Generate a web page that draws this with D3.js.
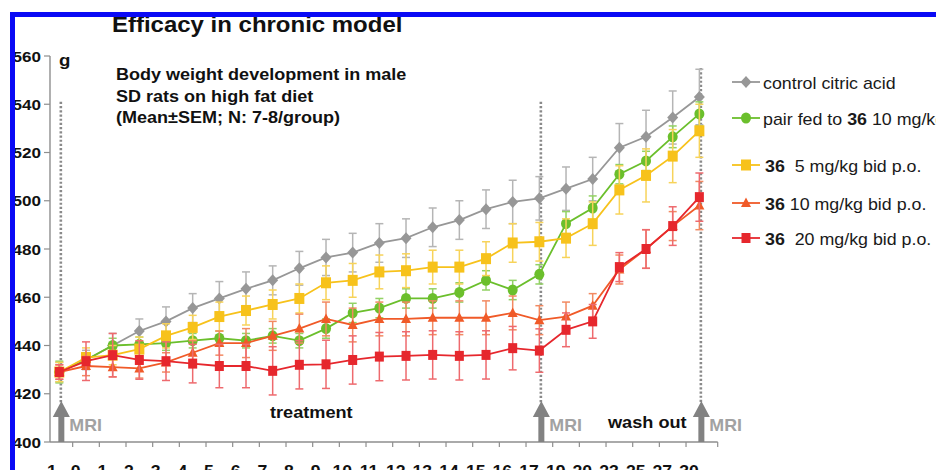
<!DOCTYPE html>
<html><head><meta charset="utf-8">
<script src="https://cdn.jsdelivr.net/npm/d3@7"></script>
<style>
body{margin:0;background:#fff;}
svg{display:block;font-family:"Liberation Sans",Arial,Helvetica,sans-serif;}
</style>
</head><body>
<svg id="chart" width="936" height="470"></svg>
<script>
// ---------------- data ----------------
const days = ["-1","0","1","2","3","4","5","6","7","8","9","10","11","12","13","14","15","16","17","19","20","23","25","27","30"];
const control    = [429,434,440,446,450,455.5,459.5,463.5,467,472,476.5,478.5,482.5,484.5,489,492,496.5,499.5,501,505,509,522,526.5,534.5,543];
const controlSem = [4,4,5,5,6,6,7,7,6,7,7.5,8,8,8,8,8,8,9,9,9,9,10,11,11,11.5];
const pairFed    = [429,434,440,440.5,441,442,443,442,444,442,447,453.5,455.5,459.5,459.5,462,467,463,469.5,490.5,497,511,516.5,526.5,536];
const pairFedSem = [4.5,3,3,3,3,3,3,3,3,3,4,4,4,4,4,4,4,4,4,5,5,4,4,4.5,5];
const dose5      = [429,435,436,438.5,444,447.5,452,454.5,457,459.5,466,467,470.5,471,472.5,472.5,476,482.5,483,484.5,490.5,504.5,510.5,518.5,529];
const dose5Sem   = [4,4,4,5,5,5,6,6,6,6,7,7,7,7,7,7,7,8,8,8,9,10,11,11,11];
const dose10     = [429,431.5,431,430.5,433,437,441,441,444,447,451,448.5,451,451,451.5,451.5,451.5,453.5,450.5,452,456.5,471.5,480,489.5,498];
const dose10Sem  = [3,4,4,4,4,5,5,6,6,6,7,7,7,7,7,7,7,7,6,6,5,6,8,6,10];
const dose20     = [429,433.5,436,434,433.5,432.5,431.5,431.5,429.5,432,432.2,434,435.4,435.7,436.1,435.7,436.1,438.9,437.9,446.5,450,472.5,480,489.5,501.5];
const dose20Sem  = [3,8,9,8,8,8,9,9,10,10,10,10,10,10,10,10,10,9,9,7,7,6,8,8,10];
const yTicks = [400,420,440,460,480,500,520,540,560];
const mriDays = ["-1","17","30"];

// ---------------- layout ----------------
const svg = d3.select("#chart");
const SX = 1.1; // horizontal text stretch of the reference
const x = d3.scaleBand().domain(days).range([46, 712.7]).paddingInner(0).paddingOuter(0);
const cx = d => x(d) + x.bandwidth()/2;
const y = d3.scaleLinear().domain([400,560]).range([442,56]);

function txt(g, px, py, size, opts={}) {
  return g.append("text")
    .attr("transform", `translate(${px},${py}) scale(${opts.sx||SX},1)`)
    .attr("text-anchor", opts.anchor || "start")
    .attr("font-size", size)
    .attr("font-weight", opts.bold ? "bold" : "normal")
    .attr("fill", opts.fill || "#111");
}

const series = [
  {vals: control, sem: controlSem, color:"#979797", err:"#b5b5b5", shape:"diamond"},
  {vals: pairFed, sem: pairFedSem, color:"#6bbf2c", err:"#93d265", shape:"circle"},
  {vals: dose5,   sem: dose5Sem,   color:"#f7c21b", err:"#f7d35a", shape:"square"},
  {vals: dose10,  sem: dose10Sem,  color:"#f05a28", err:"#f28a62", shape:"triangle"},
  {vals: dose20,  sem: dose20Sem,  color:"#e6272d", err:"#ee6a6e", shape:"square2"}
];

function marker(g, shape, color, px, py) {
  if (shape === "diamond") {
    g.append("path").attr("d", `M${px},${py-6}L${px+5.5},${py}L${px},${py+6}L${px-5.5},${py}Z`).attr("fill", color);
  } else if (shape === "circle") {
    g.append("ellipse").attr("cx", px).attr("cy", py).attr("rx", 5).attr("ry", 5.5).attr("fill", color);
  } else if (shape === "square") {
    g.append("rect").attr("x", px-5).attr("y", py-5.5).attr("width", 10).attr("height", 11).attr("fill", color);
  } else if (shape === "square2") {
    g.append("rect").attr("x", px-4.5).attr("y", py-5).attr("width", 9).attr("height", 10).attr("fill", color);
  } else if (shape === "triangle") {
    g.append("path").attr("d", `M${px},${py-5.5}L${px+5},${py+4}L${px-5},${py+4}Z`).attr("fill", color);
  }
}

// ---------------- annotations (dotted lines, arrows) ----------------
const ann = svg.append("g");
const dotTop = {"-1": y(541), "17": y(541), "30": y(555)};
mriDays.forEach(d => {
  ann.append("line").attr("x1", cx(d)+1.5).attr("x2", cx(d)+1.5)
    .attr("y1", dotTop[d]).attr("y2", 404)
    .attr("stroke", "#8a8a8a").attr("stroke-width", 2.6).attr("stroke-dasharray", "2.2,2");
});

// ---------------- axes ----------------
const axisColor = "#8e8e8e";
const ax = svg.append("g");
// y axis
ax.append("line").attr("x1", 50).attr("x2", 50).attr("y1", y(560)).attr("y2", y(400)).attr("stroke", axisColor).attr("stroke-width", 1.4);
yTicks.forEach(t => {
  ax.append("line").attr("x1", 44).attr("x2", 50).attr("y1", y(t)).attr("y2", y(t)).attr("stroke", axisColor).attr("stroke-width", 1.2);
  txt(ax, 41, y(t)+5.5, 15.5, {bold:true, anchor:"end"}).text(t);
});
// x axis
ax.append("line").attr("x1", 50).attr("x2", x.range()[1]+5).attr("y1", y(400)).attr("y2", y(400)).attr("stroke", axisColor).attr("stroke-width", 1.4);
days.slice(1).forEach(d => {
  ax.append("line").attr("x1", x(d)).attr("x2", x(d)).attr("y1", y(400)).attr("y2", y(400)+5).attr("stroke", axisColor).attr("stroke-width", 1.2);
});
ax.append("line").attr("x1", x.range()[1]+5).attr("x2", x.range()[1]+5).attr("y1", y(400)).attr("y2", y(400)+5).attr("stroke", axisColor).attr("stroke-width", 1.2);
days.forEach(d => {
  txt(ax, x(d)+3, 477, 16, {bold:true, anchor:"middle"}).text(d);
});

// ---------------- series ----------------
const line = d3.line().x((v,i) => cx(days[i])).y(v => y(v));
series.forEach(s => {
  const g = svg.append("g");
  // error bars
  s.vals.forEach((v,i) => {
    const px = cx(days[i]);
    const hi = y(v + s.sem[i]), lo = y(v - s.sem[i]);
    g.append("line").attr("x1", px).attr("x2", px).attr("y1", hi).attr("y2", lo).attr("stroke", s.err).attr("stroke-width", 1.5);
    [hi, lo].forEach(yy => g.append("line").attr("x1", px-4).attr("x2", px+4).attr("y1", yy).attr("y2", yy).attr("stroke", s.err).attr("stroke-width", 1.5));
  });
  g.append("path").attr("d", line(s.vals)).attr("fill", "none").attr("stroke", s.color).attr("stroke-width", 1.8);
  s.vals.forEach((v,i) => marker(g, s.shape, s.color, cx(days[i]), y(v)));
});

// ---------------- arrows + MRI labels ----------------
const arr = svg.append("g");
mriDays.forEach(d => {
  const px = cx(d) + 2;
  arr.append("path")
    .attr("d", `M${px},401L${px+8.5},417L${px+3},417L${px+3},${y(400)}L${px-3},${y(400)}L${px-3},417L${px-8.5},417Z`)
    .attr("fill", "#828282");
  txt(arr, px+8, 430.5, 17, {bold:true, fill:"#a2a2a2", sx:1.05}).text("MRI");
});

// ---------------- texts ----------------
const tg = svg.append("g");
txt(tg, 112, 32.3, 21.8, {bold:true}).text("Efficacy in chronic model");
txt(tg, 59, 66, 17, {bold:true}).text("g");
txt(tg, 116, 80, 16.4, {bold:true}).text("Body weight development in male");
txt(tg, 116, 101.5, 16.4, {bold:true}).text("SD rats on high fat diet");
txt(tg, 116, 123, 16.4, {bold:true}).text("(Mean±SEM; N: 7-8/group)");
txt(tg, 270, 418, 16.5, {bold:true}).text("treatment");
txt(tg, 608, 428, 16.5, {bold:true}).text("wash out");

// ---------------- legend ----------------
const lg = svg.append("g");
const legRows = [82, 118, 165, 203, 238];
const legLabels = [
  [["control citric acid", false]],
  [["pair fed to ", false], ["36", true], [" 10 mg/kg", false]],
  [["36", true], ["  5 mg/kg bid p.o.", false]],
  [["36", true], [" 10 mg/kg bid p.o.", false]],
  [["36", true], ["  20 mg/kg bid p.o.", false]]
];
series.forEach((s, i) => {
  const ry = legRows[i];
  lg.append("line").attr("x1", 732).attr("x2", 760).attr("y1", ry).attr("y2", ry).attr("stroke", s.color).attr("stroke-width", 1.8);
  marker(lg, s.shape, s.color, 746, ry);
  const t = txt(lg, 763 + (i>=2 ? 2 : 0), ry + 6.5, 16.2, {fill:"#1a1a1a"}).attr("xml:space", "preserve").style("white-space", "pre");
  legLabels[i].forEach(([str, b]) => t.append("tspan").attr("font-weight", b ? "bold" : "normal").text(str));
});

// ---------------- blue frame ----------------
svg.append("rect").attr("x", 10).attr("y", 12).attr("width", 926).attr("height", 5).attr("fill", "#0a0af5");
svg.append("rect").attr("x", 10).attr("y", 12).attr("width", 5).attr("height", 458).attr("fill", "#0a0af5");
</script>
</body></html>
